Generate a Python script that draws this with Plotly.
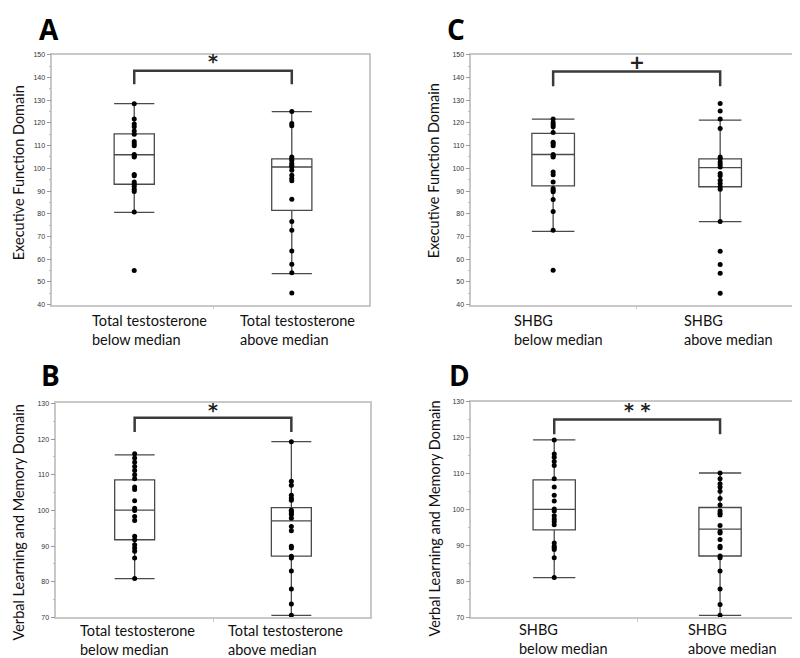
import plotly.graph_objects as go

W, H = 800, 658

# ---------------- data ----------------
groups_tt = ["Total testosterone\nbelow median", "Total testosterone\nabove median"]
groups_shbg = ["SHBG\nbelow median", "SHBG\nabove median"]

# Panel A: Executive Function, total testosterone
A_below = [128.5, 121.7, 119.5, 118.3, 116.5, 115.0, 111.8, 110.8, 110.0, 106.1, 105.4, 105.0,
           97.3, 96.7, 94.0, 93.0, 92.0, 90.8, 89.8, 80.8, 55.0]
A_above = [125.0, 119.8, 118.8, 105.0, 104.2, 103.5, 102.1, 101.3, 100.6, 99.2, 97.0, 95.5,
           94.5, 86.4, 76.6, 72.7, 63.6, 57.8, 54.0, 45.1]
A_stats = dict(q1=[93.0, 81.5], median=[106.0, 100.6], q3=[115.2, 104.2],
               lowerfence=[80.6, 53.6], upperfence=[128.5, 125.0])

# Panel C: Executive Function, SHBG
C_below = [121.7, 120.2, 119.2, 118.3, 115.8, 111.5, 110.8, 110.0, 106.1, 105.4, 105.0, 98.4,
           97.2, 94.0, 91.1, 90.4, 89.7, 86.3, 81.0, 72.7, 55.1]
C_above = [128.6, 125.3, 121.7, 117.6, 105.0, 104.2, 102.8, 101.7, 100.6, 97.7, 96.7, 94.8,
           93.3, 91.9, 90.8, 76.6, 63.5, 57.6, 53.8, 45.0]
C_stats = dict(q1=[92.3, 91.9], median=[106.1, 100.3], q3=[115.4, 104.2],
               lowerfence=[72.2, 76.5], upperfence=[121.7, 121.2])

# Panel B: Verbal Learning and Memory, total testosterone
B_below = [115.9, 114.7, 113.5, 112.3, 111.2, 110.0, 108.9, 106.6, 105.9, 102.7, 100.6, 100.0,
           98.3, 97.2, 92.8, 91.8, 90.4, 89.5, 88.6, 86.7, 80.9]
B_above = [119.3, 108.2, 107.1, 104.3, 103.4, 102.9, 100.1, 99.7, 99.2, 98.8, 97.8, 95.5,
           94.3, 90.0, 89.5, 87.2, 86.7, 83.0, 78.0, 73.8, 70.6]
B_stats = dict(q1=[91.8, 87.2], median=[100.1, 97.1], q3=[108.6, 100.8],
               lowerfence=[80.9, 70.6], upperfence=[115.6, 119.3])

# Panel D: Verbal Learning and Memory, SHBG
D_below = [119.4, 115.5, 114.6, 113.4, 112.3, 108.6, 106.3, 104.0, 102.4, 100.2, 99.6, 98.3,
           97.4, 96.7, 95.8, 90.7, 89.8, 89.4, 88.9, 86.6, 81.1]
D_above = [110.2, 108.6, 107.2, 106.3, 105.1, 103.1, 101.3, 99.6, 99.0, 98.5, 95.6, 93.9,
           93.5, 91.7, 89.8, 89.4, 87.1, 86.6, 82.9, 77.9, 73.6, 70.6]
D_stats = dict(q1=[94.4, 87.1], median=[100.1, 94.6], q3=[108.3, 100.6],
               lowerfence=[81.1, 70.6], upperfence=[119.4, 110.2])

sig_labels = ["*", "+", "*", "* *"]
y_titles = ["Executive Function Domain", "Executive Function Domain",
            "Verbal Learning and Memory Domain", "Verbal Learning and Memory Domain"]
panel_letters = ["A", "C", "B", "D"]

# ---------------- layout helpers ----------------
def px(x):
    return x / W

def py(y):
    return 1 - y / H

panels = [
    dict(below=A_below, above=A_above, stats=A_stats, groups=groups_tt,
         xd=(44.3, 361), yd=(43.3, 295.7), xr=(-0.52, 1.49), yr=(40, 150),
         br=(143.0, 137.0), sy=147.3, letter=(41, 17), title=(10, 163)),
    dict(below=C_below, above=C_above, stats=C_stats, groups=groups_shbg,
         xd=(463.3, 789), yd=(43.3, 295.7), xr=(-0.49, 1.46), yr=(40, 150),
         br=(142.7, 136.2), sy=146.8, letter=(448, 17), title=(425, 161)),
    dict(below=B_below, above=B_above, stats=B_stats, groups=groups_tt,
         xd=(48.3, 361.7), yd=(395.7, 612), xr=(-0.5, 1.5), yr=(70, 130),
         br=(126.0, 122.0), sy=128.2, letter=(42, 367), title=(11, 516)),
    dict(below=D_below, above=D_above, stats=D_stats, groups=groups_shbg,
         xd=(463.3, 790), yd=(394, 612), xr=(-0.5, 1.47), yr=(70, 130),
         br=(125.1, 121.0), sy=127.8, letter=(452, 367), title=(427, 512)),
]

label_pos = [
    dict(x=[83, 231], y=321),
    dict(x=[505, 675], y=321),
    dict(x=[71, 219], y=635),
    dict(x=[510, 679], y=634),
]

fig = go.Figure()
annotations = []
shapes = []
label_font = dict(family="Lato", size=14.5, color="#111")

for i, p in enumerate(panels):
    n = "" if i == 0 else str(i + 1)
    xa, ya = "x" + n, "y" + n
    st = p["stats"]
    fig.add_trace(go.Box(
        x=[0, 1], q1=st["q1"], median=st["median"], q3=st["q3"],
        lowerfence=st["lowerfence"], upperfence=st["upperfence"],
        width=0.255, whiskerwidth=1.0, fillcolor="rgba(0,0,0,0)",
        line=dict(color="#4a4a4a", width=1.3), boxpoints=False,
        xaxis=xa, yaxis=ya, showlegend=False, hoverinfo="skip"))
    fig.add_trace(go.Scatter(
        x=[0] * len(p["below"]), y=p["below"], mode="markers",
        marker=dict(color="#000", size=5), xaxis=xa, yaxis=ya, showlegend=False))
    fig.add_trace(go.Scatter(
        x=[1] * len(p["above"]), y=p["above"], mode="markers",
        marker=dict(color="#000", size=5), xaxis=xa, yaxis=ya, showlegend=False))

    fig.layout["xaxis" + n] = dict(
        domain=[px(p["xd"][0]), px(p["xd"][1])], range=list(p["xr"]), anchor=ya,
        showgrid=False, zeroline=False, showline=True, mirror=True,
        linecolor="#c8c8c8", linewidth=1.5, tickvals=[0.5], ticktext=[""],
        ticks="outside", ticklen=3, tickcolor="#c8c8c8", fixedrange=True)
    fig.layout["yaxis" + n] = dict(
        domain=[py(p["yd"][1]), py(p["yd"][0])], range=list(p["yr"]), anchor=xa,
        showgrid=False, zeroline=False, showline=True, mirror=True,
        linecolor="#c8c8c8", linewidth=1.5, dtick=10, tick0=0,
        ticks="outside", ticklen=4, tickcolor="#999",
        tickfont=dict(family="Liberation Sans", size=7, color="#333"),
        minor=dict(dtick=5, ticks="outside", ticklen=2, tickcolor="#bbb"),
        fixedrange=True)

    # significance bracket
    top, drop = p["br"]
    shapes.append(dict(type="path", xref=xa, yref=ya,
                       path=f"M 0 {drop} L 0 {top} L 1 {top} L 1 {drop}",
                       line=dict(color="#3a3a3a", width=2.5)))
    annotations.append(dict(x=0.5, y=p["sy"], xref=xa, yref=ya, text=f"<b>{sig_labels[i]}</b>",
                            showarrow=False, font=dict(family="DejaVu Sans", size=19, color="#222"),
                            yanchor="middle", borderpad=0))
    # panel letter
    annotations.append(dict(x=px(p["letter"][0]), y=py(p["letter"][1]), xref="paper", yref="paper",
                            text=f"<b>{panel_letters[i]}</b>", showarrow=False,
                            font=dict(family="Open Sans", size=28, color="#000"),
                            xanchor="center", yanchor="middle", borderpad=0))
    # y title
    annotations.append(dict(x=px(p["title"][0]), y=py(p["title"][1]), xref="paper", yref="paper",
                            text=y_titles[i], showarrow=False, textangle=-90,
                            font=label_font, xanchor="center", yanchor="middle", borderpad=0))
    # category labels (two lines, left aligned)
    lp = label_pos[i]
    for j, g in enumerate(p["groups"]):
        annotations.append(dict(x=px(lp["x"][j]), y=py(lp["y"]), xref="paper", yref="paper",
                                text=g.replace("\n", "<br>"), showarrow=False, font=label_font,
                                align="left", xanchor="left", yanchor="middle", borderpad=0))

fig.update_layout(width=W, height=H, margin=dict(l=0, r=0, t=0, b=0),
                  paper_bgcolor="white", plot_bgcolor="white",
                  annotations=annotations, shapes=shapes, boxmode="overlay")

fig.write_html("out.html")
